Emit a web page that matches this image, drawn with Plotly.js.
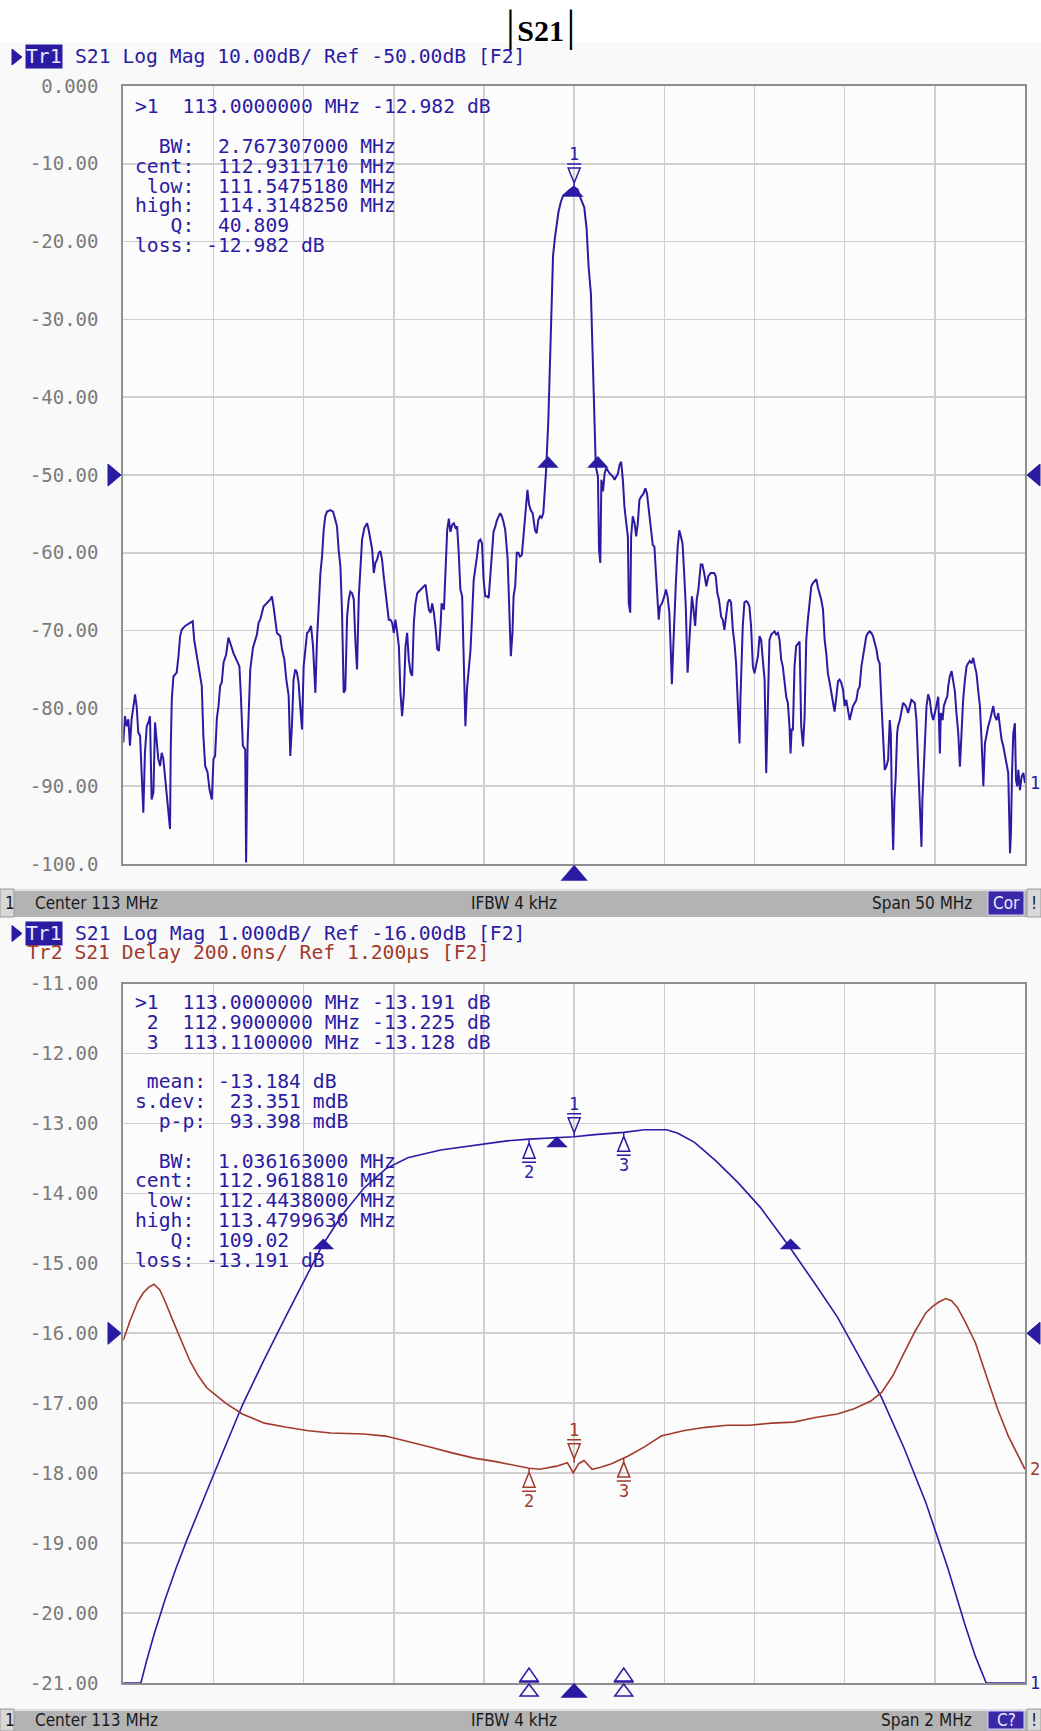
<!DOCTYPE html>
<html><head><meta charset="utf-8">
<script src="https://cdn.plot.ly/plotly-3.0.1.min.js"></script>
<style>html,body{margin:0;padding:0;background:#f9f9f9;}#chart{width:1041px;height:1731px;}</style>
</head><body><div id="chart"></div>
<script>
// ---------------- DATA ----------------
// Upper screen: S21 Log Mag, 88..138 MHz
const topFreqMHz = [
88.00,88.09,88.19,88.28,88.37,88.46,88.59,88.65,88.74,88.83,
88.93,89.02,89.11,89.20,89.30,89.39,89.48,89.57,89.67,89.76,
89.85,89.94,90.04,90.13,90.22,90.31,90.41,90.50,90.59,90.63,
90.69,90.78,90.96,91.06,91.15,91.24,91.43,91.70,91.85,91.93,
92.04,92.17,92.26,92.35,92.44,92.54,92.67,92.78,92.91,93.00,
93.09,93.19,93.28,93.37,93.46,93.56,93.70,93.83,93.93,94.11,
94.30,94.44,94.52,94.63,94.76,94.81,94.89,94.94,95.04,95.19,
95.31,95.41,95.50,95.59,95.78,95.96,96.15,96.24,96.33,96.52,
96.70,96.80,96.93,97.04,97.17,97.26,97.35,97.44,97.54,97.63,
97.72,97.81,97.91,98.00,98.09,98.19,98.28,98.41,98.52,98.59,
98.65,98.74,98.83,98.93,99.02,99.11,99.20,99.30,99.48,99.63,
99.76,99.85,99.94,100.04,100.13,100.22,100.31,100.41,100.50,100.59,
100.69,100.78,100.87,100.96,101.06,101.15,101.24,101.37,101.52,101.61,
101.70,101.80,101.89,101.98,102.07,102.17,102.26,102.35,102.44,102.54,
102.63,102.72,102.81,102.91,103.00,103.09,103.19,103.28,103.37,103.46,
103.56,103.65,103.74,103.83,103.93,104.02,104.11,104.20,104.30,104.48,
104.67,104.76,104.85,104.94,105.04,
105.13,105.22,105.32,105.41,105.50,105.59,105.65,105.78,105.87,105.96,
106.05,106.14,106.24,106.33,106.42,106.51,106.60,106.69,106.79,106.88,
106.97,107.06,107.15,107.25,107.34,107.43,107.61,107.71,107.80,107.89,
107.98,108.07,108.17,108.26,108.35,108.44,108.53,108.63,108.72,108.90,
108.99,109.08,109.18,109.31,109.42,109.49,109.58,109.64,109.73,109.82,
109.91,110.00,110.10,110.22,110.33,110.41,110.50,110.59,110.70,110.83,
110.92,111.01,111.11,111.20,111.29,111.38,111.44,
111.57,111.65,111.74,111.83,111.94,112.02,112.13,112.26,112.39,112.54,
112.72,113.00,113.19,113.37,113.56,113.69,113.80,113.93,114.02,114.11,
114.20,
114.32,114.38,114.45,114.51,114.60,114.69,114.78,114.88,114.97,115.06,
115.15,115.24,115.33,115.43,115.52,115.61,115.70,115.79,115.89,115.98,
116.03,116.11,116.16,116.25,116.35,116.44,116.53,116.62,116.71,116.84,
116.95,117.04,117.14,117.26,117.36,117.45,117.54,117.63,117.69,117.76,
117.87,118.00,118.09,118.18,118.28,118.37,118.42,118.50,118.57,118.64,
118.74,118.83,118.92,119.01,119.10,119.19,119.29,119.34,119.42,119.53,
119.60,119.71,119.80,119.89,120.02,120.11,120.21,120.33,120.44,120.57,
120.76,120.85,120.94,121.03,
121.15,121.24,121.33,121.43,121.52,121.61,121.70,121.80,121.89,121.98,
122.07,122.17,122.22,122.28,122.35,122.44,122.54,122.63,122.72,122.81,
122.91,123.00,123.09,123.19,123.28,123.37,123.46,123.56,123.65,123.74,
123.83,123.93,124.02,124.11,124.20,124.30,124.39,124.48,124.57,124.67,
124.76,124.85,124.94,125.00,125.06,125.13,125.22,125.31,125.41,125.50,
125.59,125.69,125.78,125.87,125.96,126.06,126.15,126.24,126.33,126.43,
126.52,126.61,126.70,126.80,126.89,126.98,127.07,127.17,127.26,127.35,
127.44,127.54,127.63,127.72,127.81,127.91,128.00,128.09,128.19,128.28,
128.37,128.46,128.56,128.65,128.74,128.83,128.93,129.02,129.11,129.20,
129.30,129.39,129.48,129.57,129.67,129.76,129.85,129.94,130.04,130.13,
130.22,130.31,130.41,130.50,130.56,130.61,130.69,130.76,130.83,130.91,
130.96,131.06,131.15,131.24,131.33,131.43,131.52,131.61,131.70,131.80,
131.89,131.98,132.07,132.13,132.20,132.26,132.31,132.39,132.44,132.54,
132.63,132.72,132.81,132.91,133.00,133.09,133.19,133.28,133.33,133.43,
133.50,133.61,133.69,133.74,133.83,133.93,134.02,134.11,134.20,134.30,
134.39,134.48,134.57,134.67,134.76,134.85,134.94,135.04,135.13,135.22,
135.31,135.41,135.50,135.59,135.69,135.78,135.87,135.96,136.06,136.15,
136.24,136.33,136.43,136.52,136.61,136.70,136.80,136.89,136.98,137.07,
137.17,137.22,137.28,137.35,137.44,137.50,137.57,137.63,137.72,137.81,
137.91,138.00];
const topS21dB = [
-84.4,-81.0,-82.3,-81.4,-84.8,-81.4,-79.3,-78.2,-79.7,-83.1,
-83.5,-89.1,-93.4,-85.7,-82.3,-81.8,-81.0,-91.7,-90.8,-81.8,
-84.4,-86.5,-87.4,-85.7,-86.5,-88.7,-91.7,-94.2,-95.5,-85.3,
-78.8,-75.9,-75.4,-73.3,-70.7,-69.9,-69.4,-69.0,-68.8,-71.2,
-72.9,-74.6,-76.3,-77.1,-83.5,-87.4,-88.2,-90.4,-91.7,-86.5,
-86.1,-81.2,-79.7,-77.1,-76.7,-74.1,-73.1,-70.9,-71.6,-72.9,
-73.9,-74.6,-78.4,-84.8,-85.3,-99.8,-84.8,-80.6,-75.0,-72.2,
-71.2,-70.5,-69.0,-68.6,-66.9,-66.5,-66.0,-65.6,-66.9,-70.3,
-70.7,-72.4,-73.7,-76.3,-78.4,-86.1,-82.3,-76.3,-75.0,-75.4,
-76.7,-79.7,-82.7,-74.6,-72.9,-70.3,-70.1,-69.4,-72.0,-74.6,
-78.0,-71.2,-66.9,-62.6,-60.5,-57.1,-55.3,-54.7,-54.5,-54.7,
-55.8,-56.6,-59.6,-61.8,-67.7,-78.0,-77.6,-68.2,-66.0,-65.0,
-65.2,-66.0,-71.4,-75.0,-65.6,-60.9,-58.3,-56.8,-56.2,-57.1,
-58.3,-59.6,-62.6,-61.3,-60.9,-60.0,-59.8,-60.9,-63.0,-65.2,
-66.5,-68.6,-68.6,-69.0,-70.3,-68.6,-70.3,-72.0,-78.0,-81.0,
-78.0,-72.0,-70.3,-73.7,-75.4,-75.8,-69.0,-66.5,-65.2,-64.7,
-64.3,-64.1,-65.6,-67.3,-67.7,
-66.5,-67.7,-69.7,-72.4,-72.6,-69.4,-66.5,-67.3,-61.3,-57.1,
-55.6,-57.3,-56.4,-56.2,-56.8,-56.6,-60.0,-64.7,-65.6,-75.4,
-82.3,-77.4,-74.6,-72.6,-68.2,-63.5,-60.5,-58.5,-58.3,-58.8,
-63.5,-65.6,-65.6,-65.8,-63.0,-59.6,-57.3,-56.6,-55.8,-54.9,
-55.3,-56.0,-57.1,-60.7,-68.4,-73.3,-70.3,-65.6,-64.3,-60.0,
-60.0,-60.5,-60.3,-56.8,-53.2,-51.9,-53.8,-54.5,-54.9,-57.1,
-57.5,-55.8,-55.3,-55.5,-54.9,-51.7,-49.6,
-42.9,-36.1,-28.8,-21.8,-19.4,-17.7,-16.2,-14.9,-14.1,-13.8,
-13.4,-13.0,-13.3,-14.5,-15.6,-18.3,-23.2,-26.7,-33.7,-41.6,
-48.9,
-50.2,-59.6,-61.3,-50.6,-52.1,-49.8,-49.1,-49.5,-49.8,-50.0,
-50.2,-50.6,-50.2,-49.8,-48.7,-48.3,-50.6,-54.1,-56.2,-57.9,
-66.5,-67.7,-57.9,-55.3,-56.2,-57.9,-56.2,-53.2,-52.8,-52.4,
-51.7,-52.4,-54.5,-57.5,-59.0,-59.2,-62.6,-66.9,-68.6,-66.9,
-66.5,-65.6,-64.7,-65.6,-67.7,-73.3,-76.9,-71.9,-67.3,-63.9,
-59.2,-57.1,-57.9,-58.8,-62.6,-66.9,-75.4,-73.3,-68.6,-65.6,
-66.9,-69.4,-66.0,-64.7,-61.5,-61.5,-62.6,-64.3,-63.0,-62.6,
-62.6,-63.0,-65.2,-66.0,
-68.2,-68.6,-69.9,-68.2,-66.4,-66.0,-66.4,-69.9,-71.6,-74.2,
-78.5,-84.5,-78.9,-74.6,-69.4,-66.4,-66.2,-66.4,-66.9,-69.4,
-74.6,-75.5,-74.6,-73.3,-70.7,-71.2,-73.7,-76.3,-88.3,-79.7,
-71.2,-70.5,-70.3,-70.1,-70.5,-70.3,-71.2,-73.7,-74.6,-77.2,
-78.5,-79.3,-82.3,-85.8,-82.7,-82.7,-74.6,-72.0,-71.6,-71.4,
-82.3,-84.9,-81.0,-71.2,-68.6,-66.0,-64.3,-63.9,-63.6,-63.4,
-64.5,-65.2,-66.0,-67.3,-71.2,-72.9,-75.5,-76.7,-78.0,-79.7,
-80.4,-78.5,-76.5,-76.3,-76.7,-77.6,-79.7,-78.9,-80.6,-81.5,
-80.6,-79.7,-79.3,-78.9,-77.6,-77.2,-74.6,-73.3,-71.6,-70.7,
-70.3,-70.1,-70.3,-70.7,-71.6,-72.4,-73.7,-74.2,-79.3,-83.2,
-87.9,-87.5,-86.6,-81.5,-83.2,-90.9,-98.2,-91.8,-88.8,-83.2,
-82.3,-81.5,-80.2,-79.3,-79.5,-79.9,-80.6,-79.5,-78.9,-79.1,
-79.3,-81.5,-86.2,-89.2,-92.6,-97.8,-91.8,-87.5,-83.2,-79.7,
-78.2,-78.9,-80.6,-81.5,-80.6,-79.7,-78.5,-85.8,-80.6,-81.5,
-79.7,-78.9,-78.5,-77.2,-75.9,-75.2,-76.3,-77.8,-80.6,-83.2,
-87.5,-82.3,-78.9,-76.3,-74.6,-74.2,-73.9,-74.2,-73.5,-74.6,
-75.5,-77.8,-79.7,-84.0,-90.0,-84.5,-83.2,-82.3,-81.5,-80.6,
-79.7,-81.0,-81.5,-80.6,-82.3,-84.0,-84.9,-86.2,-87.0,-88.3,
-98.6,-96.0,-88.3,-83.2,-81.9,-89.2,-90.0,-87.9,-90.5,-88.8,
-88.3,-89.6];

// Lower screen: S21 Log Mag (Tr1) and Delay (Tr2), 112..114 MHz
const botFreqMHz = [112.000,112.039,112.051,112.068,112.093,112.117,112.142,112.166,112.215,112.264,
 112.313,112.362,112.411,112.440,112.484,112.533,112.582,112.631,112.704,112.778,
 112.851,112.900,113.000,113.046,113.110,113.156,113.205,113.230,113.267,113.315,
 113.364,113.413,113.477,113.535,113.584,113.633,113.682,113.731,113.780,113.829,
 113.866,113.890,113.914,114.000];
const botS21dB = [-21.0,-21.0,-20.70,-20.31,-19.80,-19.36,-18.94,-18.57,-17.79,-17.03,
 -16.37,-15.74,-15.11,-14.76,-14.32,-13.93,-13.65,-13.49,-13.38,-13.31,
 -13.25,-13.225,-13.191,-13.16,-13.128,-13.09,-13.09,-13.14,-13.27,-13.54,
 -13.85,-14.20,-14.76,-15.30,-15.77,-16.34,-16.92,-17.63,-18.42,-19.36,
 -20.15,-20.62,-21.0,-21.0];
const delayFreqMHz = [112.000,112.015,112.032,112.044,112.056,112.068,112.081,112.093,112.110,112.130,
 112.148,112.166,112.185,112.203,112.227,112.264,112.313,112.362,112.411,112.460,
 112.533,112.582,112.631,112.680,112.729,112.778,112.826,112.875,112.900,112.924,
 112.961,112.985,112.998,113.010,113.022,113.040,113.059,113.083,113.110,113.120,
 113.156,113.193,113.242,113.291,113.340,113.389,113.438,113.487,113.535,113.584,
 113.621,113.658,113.682,113.707,113.731,113.756,113.780,113.795,113.810,113.824,
 113.837,113.850,113.866,113.890,113.914,113.939,113.963,113.988,114.000];
const delayUs = [1.180,1.236,1.290,1.315,1.331,1.340,1.324,1.290,1.236,1.173,
 1.120,1.079,1.044,1.025,1.000,0.969,0.943,0.931,0.921,0.915,
 0.912,0.906,0.891,0.875,0.858,0.843,0.833,0.820,0.814,0.811,
 0.820,0.830,0.801,0.827,0.836,0.811,0.817,0.827,0.843,0.849,
 0.875,0.906,0.921,0.931,0.937,0.937,0.943,0.946,0.959,0.969,
 0.984,1.006,1.031,1.079,1.142,1.205,1.258,1.277,1.290,1.299,
 1.293,1.274,1.236,1.173,1.079,0.984,0.906,0.843,0.811];

// Markers
const topMarkerFreq = [113.0];       const topMarkerDb = [-12.982];
const topBwFreq = [111.5475, 114.3148]; const topBwDb = [-48.98, -48.98];
const topCentFreq = [112.9312];      const topCentDb = [-12.98];
const botMarkerFreq = [113.0, 112.9, 113.11]; const botMarkerDb = [-13.191, -13.225, -13.128];
const delayMarkerUs = [0.83, 0.814, 0.843];
const botBwFreq = [112.4438, 113.47996]; const botBwDb = [-14.79, -14.79];
const botCentFreq = [112.9619];      const botCentDb = [-13.20];
const markerNames = ['1','2','3'];

// Axes / ticks
const topTickVals = [0,-10,-20,-30,-40,-50,-60,-70,-80,-90,-100];
const topTickText = ['0.000','-10.00','-20.00','-30.00','-40.00','-50.00','-60.00','-70.00','-80.00','-90.00','-100.0'];
const botTickVals = [-11,-12,-13,-14,-15,-16,-17,-18,-19,-20,-21];
const botTickText = ['-11.00','-12.00','-13.00','-14.00','-15.00','-16.00','-17.00','-18.00','-19.00','-20.00','-21.00'];
const topRange = [88, 138];  const botRange = [112, 114];
const topRef = [-50];  const botRef = [-16];
const delayRange = [0.2, 2.2];

// Texts
const topHeader = 'S21 Log Mag 10.00dB/ Ref -50.00dB [F2]';
const botHeader1 = 'S21 Log Mag 1.000dB/ Ref -16.00dB [F2]';
const botHeader2 = 'Tr2 S21 Delay 200.0ns/ Ref 1.200µs [F2]';
const topMarkerLines = ['>1  113.0000000 MHz -12.982 dB','','  BW:  2.767307000 MHz','cent:  112.9311710 MHz',' low:  111.5475180 MHz','high:  114.3148250 MHz','   Q:  40.809','loss: -12.982 dB'];
const botMarkerLines = ['>1  113.0000000 MHz -13.191 dB',' 2  112.9000000 MHz -13.225 dB',' 3  113.1100000 MHz -13.128 dB','',' mean: -13.184 dB','s.dev:  23.351 mdB','  p-p:  93.398 mdB','','  BW:  1.036163000 MHz','cent:  112.9618810 MHz',' low:  112.4438000 MHz','high:  113.4799630 MHz','   Q:  109.02','loss: -13.191 dB'];
const statusTop = ['1','Center 113 MHz','IFBW 4 kHz','Span 50 MHz','Cor','!'];
const statusBot = ['1','Center 113 MHz','IFBW 4 kHz','Span 2 MHz','C?','!'];

// ---------------- DRAW ----------------
const W = 1041, H = 1731;
const px = x => x / W, py = y => 1 - y / H;
const BLUE = '#2b1ba3', RED = '#a23a2c', GRID = '#cfcfcf', FRAME = '#8e8e8e';
const MONO = 'DejaVu Sans Mono, Liberation Mono, monospace';
const NARROW = 'DejaVu Sans Condensed, Liberation Sans Narrow, Liberation Sans, sans-serif';
const nb = s => s.replace(/ /g, '\u00a0');

const TOP = {x0:123.3, x1:1025, y0:86, y1:864};
const BOT = {x0:123.3, x1:1025, y0:983.5, y1:1683};

const traces = [
  {x: topFreqMHz, y: topS21dB, xaxis:'x', yaxis:'y', mode:'lines', line:{color:BLUE, width:2}, hoverinfo:'skip'},
  {x: delayFreqMHz, y: delayUs, xaxis:'x2', yaxis:'y3', mode:'lines', line:{color:RED, width:1.6}, hoverinfo:'skip'},
  {x: botFreqMHz, y: botS21dB, xaxis:'x2', yaxis:'y2', mode:'lines', line:{color:BLUE, width:1.6}, hoverinfo:'skip'}
];

const ann = [];
const shapes = [];
function txt(x, y, text, o) {
  ann.push(Object.assign({xref:'paper', yref:'paper', x:px(x), y:py(y), text:nb(text), showarrow:false,
    xanchor:'left', yanchor:'middle', font:{family:MONO, size:19.7, color:BLUE}}, o || {}));
}

// title
ann.push({xref:'paper', yref:'paper', x:px(540), y:py(26), showarrow:false, xanchor:'center', yanchor:'middle',
  text:'<span style="font-size:44px">|</span>\u200a<b>S21</b>\u200a<span style="font-size:44px">|</span>',
  font:{family:'Liberation Serif, Times New Roman, serif', size:30, color:'#000'}});
shapes.push({type:'rect', xref:'paper', yref:'paper', x0:0, x1:1, y0:py(42), y1:1, fillcolor:'#ffffff', line:{width:0}, layer:'below'});

// headers
function header(y, rest, restColor, badge) {
  if (badge) {
    shapes.push({type:'path', xref:'paper', yref:'paper', xsizemode:'pixel', ysizemode:'pixel', xanchor:px(12), yanchor:py(y),
      path:'M0,8 L10,0 L0,-8 Z', fillcolor:BLUE, line:{color:BLUE, width:1}});
    txt(25, y, 'Tr1', {bgcolor:BLUE, borderpad:0, font:{family:MONO, size:19.7, color:'#e6e6ff'}});
    txt(72.6, y, rest, {font:{family:MONO, size:19.7, color:restColor}});
  } else {
    txt(25, y, rest, {font:{family:MONO, size:19.7, color:restColor}});
  }
}
header(57, topHeader, BLUE, true);
header(933.5, botHeader1, BLUE, true);
header(952.5, botHeader2, RED, false);

// marker info blocks
topMarkerLines.forEach((s, i) => { if (s) txt(133, 106.7 + i * 19.85, s); });
botMarkerLines.forEach((s, i) => { if (s) txt(133, 1002.3 + i * 19.85, s); });

// status bars
function statusBar(y0, y1, items) {
  const yc = (y0 + y1) / 2;
  shapes.push({type:'rect', xref:'paper', yref:'paper', x0:0, x1:1, y0:py(y1), y1:py(y0), fillcolor:'#b3b3b3', line:{width:0}});
  shapes.push({type:'line', xref:'paper', yref:'paper', x0:0, x1:1, y0:py(y0+1), y1:py(y0+1), line:{color:'#e0e0e0', width:2}});
  shapes.push({type:'rect', xref:'paper', yref:'paper', x0:0, x1:px(14), y0:py(y1), y1:py(y0), fillcolor:'#d8d8d8', line:{color:'#9a9a9a', width:1}});
  shapes.push({type:'rect', xref:'paper', yref:'paper', x0:px(988), x1:px(1024), y0:py(y1-2), y1:py(y0+2), fillcolor:'#3a28a6', line:{color:'#d0d0ff', width:1}});
  shapes.push({type:'rect', xref:'paper', yref:'paper', x0:px(1027), x1:1, y0:py(y1), y1:py(y0), fillcolor:'#d8d8d8', line:{color:'#9a9a9a', width:1}});
  const f = {family:NARROW, size:17, color:'#1a1a1a'};
  txt(3, yc, items[0], {font:f});
  txt(33, yc, items[1], {font:f});
  txt(514, yc, items[2], {font:f, xanchor:'center'});
  txt(974, yc, items[3], {font:f, xanchor:'right'});
  txt(1006, yc, items[4], {font:{family:NARROW, size:17, color:'#e8e8ff'}, xanchor:'center'});
  txt(1034, yc, items[5], {font:f, xanchor:'center'});
}
statusBar(889, 917, statusTop);
statusBar(1709, 1731, statusBot);

// reference level triangles
function refTri(yref, val) {
  shapes.push({type:'path', xref:'paper', yref:yref, xsizemode:'pixel', ysizemode:'pixel', xanchor:px(121), yanchor:val,
    path:'M0,0 L-13,11 L-13,-11 Z', fillcolor:BLUE, line:{color:BLUE, width:1}});
  shapes.push({type:'path', xref:'paper', yref:yref, xsizemode:'pixel', ysizemode:'pixel', xanchor:px(1027), yanchor:val,
    path:'M0,0 L13,11 L13,-11 Z', fillcolor:BLUE, line:{color:BLUE, width:1}});
}
refTri('y', topRef[0]);
refTri('y2', botRef[0]);

// trace markers
function pathAt(xr, yr, x, y, path, color, filled) {
  shapes.push({type:'path', xref:xr, yref:yr, xsizemode:'pixel', ysizemode:'pixel', xanchor:x, yanchor:y, path:path,
    fillcolor: filled ? color : 'rgba(0,0,0,0)', line:{color:color, width:1.5}});
}
const DOWN = 'M0,0 L0,4 M-6,19 L6,19 L0,4 Z M-7,23 L7,23';
const UP = 'M0,0 L0,-4 M-6,-19 L6,-19 L0,-4 Z M-7,-23 L7,-23';
function marker(xr, yr, x, y, name, color, above) {
  pathAt(xr, yr, x, y, above ? DOWN : UP, color, false);
  ann.push({xref:xr, yref:yr, x:x, y:y, text:name, showarrow:false, yshift: above ? 33 : -33,
    xanchor:'center', yanchor:'middle', font:{family:MONO, size:17, color:color}});
}
// upper
marker('x', 'y', topMarkerFreq[0], topMarkerDb[0], markerNames[0], BLUE, true);
topBwFreq.forEach((f, i) => pathAt('x', 'y', f, topBwDb[i], 'M-9,0 L9,0 L0,10 Z', BLUE, true));
pathAt('x', 'y', topCentFreq[0], topCentDb[0], 'M0,0 L-9,-9 L9,-9 Z', BLUE, true);
pathAt('x', 'y domain', topMarkerFreq[0], 0, 'M0,-2 L-12,-16 L12,-16 Z', BLUE, true);
ann.push({xref:'paper', yref:'y', x:px(1028), y:topS21dB[topS21dB.length-1], text:'1', showarrow:false, xanchor:'left', yanchor:'middle', font:{family:MONO, size:17, color:BLUE}});
// lower
botMarkerFreq.forEach((f, i) => {
  marker('x2', 'y2', f, botMarkerDb[i], markerNames[i], BLUE, i === 0);
  marker('x2', 'y3', f, delayMarkerUs[i], markerNames[i], RED, i === 0);
  if (i === 0) pathAt('x2', 'y2 domain', f, 0, 'M0,-1 L-12,-14 L12,-14 Z', BLUE, true);
  else {
    pathAt('x2', 'y2 domain', f, 0, 'M0,15 L-9,2 L9,2 Z M-10,1 L10,1', BLUE, false);
    pathAt('x2', 'y2 domain', f, 0, 'M0,-1 L-9,-13 L9,-13 Z', BLUE, false);
  }
});
botBwFreq.forEach((f, i) => pathAt('x2', 'y2', f, botBwDb[i], 'M-9,0 L9,0 L0,9 Z', BLUE, true));
pathAt('x2', 'y2', botCentFreq[0], botCentDb[0], 'M0,0 L-9,-9 L9,-9 Z', BLUE, true);
ann.push({xref:'paper', yref:'y3', x:px(1028), y:delayUs[delayUs.length-1], text:'2', showarrow:false, xanchor:'left', yanchor:'middle', font:{family:MONO, size:17, color:RED}});
ann.push({xref:'paper', yref:'y2', x:px(1028), y:botS21dB[botS21dB.length-1], text:'1', showarrow:false, xanchor:'left', yanchor:'middle', font:{family:MONO, size:17, color:BLUE}});

const xBase = {showticklabels:false, ticks:'', showgrid:true, gridcolor:GRID, gridwidth:1.6, showline:true, mirror:true,
  linecolor:FRAME, linewidth:2, zeroline:false, fixedrange:true};
const yBase = {tickmode:'array', ticks:'outside', ticklen:19, tickcolor:'rgba(0,0,0,0)', showgrid:true, gridcolor:GRID,
  gridwidth:1.6, showline:true, mirror:true, linecolor:FRAME, linewidth:2, zeroline:false, fixedrange:true,
  tickfont:{family:MONO, size:19, color:'#7a7a7a'}};

const layout = {
  width: W, height: H, margin:{l:0, r:0, t:0, b:0, pad:0},
  paper_bgcolor:'#f9f9f9', plot_bgcolor:'#fcfcfc', showlegend:false,
  xaxis: Object.assign({}, xBase, {domain:[px(TOP.x0), px(TOP.x1)], range:topRange, tick0:topRange[0], dtick:5, anchor:'y'}),
  yaxis: Object.assign({}, yBase, {domain:[py(TOP.y1), py(TOP.y0)], range:[-100, 0], tickvals:topTickVals, ticktext:topTickText, anchor:'x'}),
  xaxis2: Object.assign({}, xBase, {domain:[px(BOT.x0), px(BOT.x1)], range:botRange, tick0:botRange[0], dtick:0.2, anchor:'y2'}),
  yaxis2: Object.assign({}, yBase, {domain:[py(BOT.y1), py(BOT.y0)], range:[-21, -11], tickvals:botTickVals, ticktext:botTickText, anchor:'x2'}),
  yaxis3: {overlaying:'y2', anchor:'x2', range:delayRange, visible:false, showgrid:false, zeroline:false, fixedrange:true},
  annotations: ann, shapes: shapes
};
Plotly.newPlot('chart', traces, layout, {staticPlot:true, displayModeBar:false});
</script></body></html>
